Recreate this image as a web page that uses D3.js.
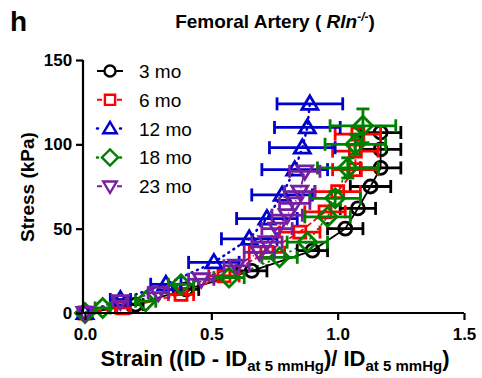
<!DOCTYPE html>
<html>
<head>
<meta charset="utf-8">
<script src="https://cdn.jsdelivr.net/npm/d3@7"></script>
<style>
    body { margin: 0; background: #fff; }
    svg { font-family: "Liberation Sans", Arial, sans-serif; }
</style>
</head>
<body>
<div id="chart"></div>
<script>
// values
var ages = ["3 mo", "6 mo", "12 mo", "18 mo", "23 mo"];
var colors = ["#000000", "#ff0000", "#0000cc", "#008000", "#7420a0"];
var shapes = ["circle", "square", "triangle", "diamond", "triangleDown"];
var dashes = [null, "7,3", "1,5", "1,5", "7,3,1,3"];

var strain3 = [0, 0.20, 0.40, 0.66, 0.90, 1.03, 1.08, 1.13, 1.17, 1.17, 1.17];
var stress3 = [0, 5, 14, 25, 37, 50, 62, 75, 86, 97, 107];
var err3 = [0.01, 0.03, 0.05, 0.06, 0.06, 0.07, 0.07, 0.08, 0.08, 0.08, 0.08];

var strain6 = [0, 0.15, 0.38, 0.55, 0.72, 0.85, 0.95, 1.00, 1.07, 1.07, 1.08];
var stress6 = [0, 3, 11, 22, 36, 48, 60, 72, 85, 96, 106];
var err6 = [0.01, 0.03, 0.05, 0.06, 0.07, 0.08, 0.08, 0.09, 0.09, 0.09, 0.09];

var strain12 = [0, 0.14, 0.32, 0.51, 0.65, 0.72, 0.78, 0.83, 0.86, 0.88, 0.89];
var stress12 = [0, 8, 17, 30, 44, 56, 70, 85, 98, 110, 124];
var err12 = [0.01, 0.04, 0.06, 0.10, 0.11, 0.12, 0.12, 0.13, 0.13, 0.13, 0.13];

var strain18 = [0, 0.07, 0.24, 0.38, 0.57, 0.77, 0.88, 0.96, 0.99, 1.04, 1.07, 1.10];
var stress18 = [0, 3, 7, 17, 21, 33, 42, 57, 68, 86, 100, 111];
var err18 = [0.01, 0.03, 0.04, 0.05, 0.06, 0.07, 0.08, 0.09, 0.10, 0.12, 0.12, 0.13];
var yerr18 = [0, 0, 0, 0, 0, 0, 0, 0, 4, 6, 6, 10];

var strain23 = [0, 0.14, 0.29, 0.46, 0.60, 0.69, 0.72, 0.76, 0.80, 0.83, 0.85, 0.87];
var stress23 = [0, 7, 12, 20, 28, 36, 42, 50, 58, 65, 72, 84];
var err23 = [0.01, 0.03, 0.04, 0.05, 0.05, 0.06, 0.06, 0.06, 0.06, 0.06, 0.06, 0.06];

var xTicks = [0, 0.5, 1.0, 1.5];
var yTicks = [0, 50, 100, 150];

function makeSeries(strain, stress, err, yerr) {
    return strain.map(function (s, i) {
        return { x: s, y: stress[i], ex: err[i], ey: yerr ? yerr[i] : 0 };
    });
}
var series = [
    makeSeries(strain3, stress3, err3),
    makeSeries(strain6, stress6, err6),
    makeSeries(strain12, stress12, err12),
    makeSeries(strain18, stress18, err18, yerr18),
    makeSeries(strain23, stress23, err23)
];

var width = 482, height = 378;
var margin = { top: 60, right: 18, bottom: 65, left: 85 };

var svg = d3.select("#chart").append("svg")
    .attr("width", width)
    .attr("height", height);

var x = d3.scaleLinear().domain([0, 1.5]).range([margin.left, 464]);
var y = d3.scaleLinear().domain([0, 150]).range([313, margin.top]);

// marker paths, centred on 0,0
function markerPath(shape) {
    var r = 6.5;
    if (shape == "circle") return "M" + (-r) + ",0a" + r + "," + r + " 0 1,0 " + (2 * r) + ",0a" + r + "," + r + " 0 1,0 " + (-2 * r) + ",0Z";
    if (shape == "square") return "M-6,-6H6V6H-6Z";
    if (shape == "triangle") return "M0,-8L8,5.5H-8Z";
    if (shape == "diamond") return "M0,-9.5L9.5,0L0,9.5L-9.5,0Z";
    return "M0,8L8,-5.5H-8Z";
}

var line = d3.line()
    .x(function (d) { return x(d.x); })
    .y(function (d) { return y(d.y); });

// connecting lines
series.forEach(function (data, i) {
    svg.append("path")
        .datum(data)
        .attr("d", line)
        .attr("fill", "none")
        .attr("stroke", colors[i])
        .attr("stroke-width", i == 2 ? 2.5 : 1.8)
        .attr("stroke-linecap", dashes[i] && dashes[i].indexOf("1,5") == 0 ? "round" : "butt")
        .attr("stroke-dasharray", dashes[i]);
});

// error bars + markers
series.forEach(function (data, i) {
    var g = svg.append("g")
        .attr("stroke", colors[i])
        .attr("stroke-width", 2.8)
        .attr("fill", "none");

    data.forEach(function (d) {
        if (d.ex > 0.015) {
            g.append("line")
                .attr("x1", x(d.x - d.ex)).attr("x2", x(d.x + d.ex))
                .attr("y1", y(d.y)).attr("y2", y(d.y));
            [d.x - d.ex, d.x + d.ex].forEach(function (v) {
                g.append("line")
                    .attr("x1", x(v)).attr("x2", x(v))
                    .attr("y1", y(d.y) - 6.5).attr("y2", y(d.y) + 6.5);
            });
        }
        if (d.ey > 0) {
            g.append("line")
                .attr("x1", x(d.x)).attr("x2", x(d.x))
                .attr("y1", y(d.y - d.ey)).attr("y2", y(d.y + d.ey));
            [d.y - d.ey, d.y + d.ey].forEach(function (v) {
                g.append("line")
                    .attr("x1", x(d.x) - 6.5).attr("x2", x(d.x) + 6.5)
                    .attr("y1", y(v)).attr("y2", y(v));
            });
        }
    });

    g.selectAll("path.marker")
        .data(data)
        .enter()
        .append("path")
        .attr("class", "marker")
        .attr("d", markerPath(shapes[i]))
        .attr("transform", function (d) { return "translate(" + x(d.x) + "," + y(d.y) + ")"; });
});

// axes
var xAxis = svg.append("g")
    .attr("transform", "translate(0,313)")
    .call(d3.axisBottom(x).tickValues(xTicks).tickSize(7).tickSizeOuter(0).tickFormat(d3.format(".1f")));
var yAxis = svg.append("g")
    .attr("transform", "translate(83,0)")
    .call(d3.axisLeft(y).tickValues(yTicks).tickSize(7).tickSizeOuter(0));

[xAxis, yAxis].forEach(function (a) {
    a.select(".domain").attr("stroke-width", 2.2);
    a.selectAll(".tick line").attr("stroke-width", 2.2);
    a.selectAll("text")
        .attr("fill", "#000")
        .style("font-size", "17px")
        .style("font-weight", "bold")
        .style("font-family", "'Liberation Sans', Arial, sans-serif");
});
xAxis.select(".domain").attr("d", "M83,0H" + x(1.5));
xAxis.selectAll("text").attr("dy", "1.0em");
yAxis.select(".domain").attr("d", "M0," + y(150) + "V313");
yAxis.selectAll("text").attr("dx", "-0.05em");

// legend
var legend = svg.append("g").attr("transform", "translate(110,71)");
ages.forEach(function (a, i) {
    var row = legend.append("g").attr("transform", "translate(0," + (i * 28.8) + ")");
    row.append("line")
        .attr("x1", -13).attr("x2", 13)
        .attr("stroke", colors[i])
        .attr("stroke-width", i == 2 || i == 3 ? 2.5 : 2)
        .attr("stroke-linecap", i == 2 || i == 3 ? "round" : "butt")
        .attr("stroke-dasharray", i == 0 ? null : (i == 2 || i == 3 ? "1,10.5" : "5,5"));
    row.append("path")
        .attr("d", markerPath(shapes[i]))
        .attr("transform", "scale(0.85)")
        .attr("fill", "#fff")
        .attr("stroke", colors[i])
        .attr("stroke-width", 2.8);
    row.append("text")
        .attr("x", 29)
        .attr("y", 7)
        .style("font-size", "19px")
        .text(a);
});

// titles
svg.append("text")
    .attr("x", 10).attr("y", 31)
    .style("font-size", "28px")
    .style("font-weight", "bold")
    .text("h");

var title = svg.append("text")
    .attr("x", 275).attr("y", 28)
    .attr("text-anchor", "middle")
    .style("font-size", "19px")
    .style("font-weight", "bold");
title.append("tspan").text("Femoral Artery ( ");
title.append("tspan").style("font-style", "italic").text("Rln");
title.append("tspan").attr("dy", -7).style("font-size", "12px").style("font-style", "italic").text("-/-");
title.append("tspan").attr("dy", 7).text(")");

svg.append("text")
    .attr("transform", "translate(34,187) rotate(-90)")
    .attr("text-anchor", "middle")
    .style("font-size", "19px")
    .style("font-weight", "bold")
    .text("Stress (kPa)");

var xl = svg.append("text")
    .attr("x", 275).attr("y", 366)
    .attr("text-anchor", "middle")
    .style("font-size", "22px")
    .style("font-weight", "bold");
xl.append("tspan").text("Strain ((ID - ID");
xl.append("tspan").attr("dy", 5).style("font-size", "15px").text("at 5 mmHg");
xl.append("tspan").attr("dy", -5).text(")/ ID");
xl.append("tspan").attr("dy", 5).style("font-size", "15px").text("at 5 mmHg");
xl.append("tspan").attr("dy", -5).text(")");
</script>
</body>
</html>
